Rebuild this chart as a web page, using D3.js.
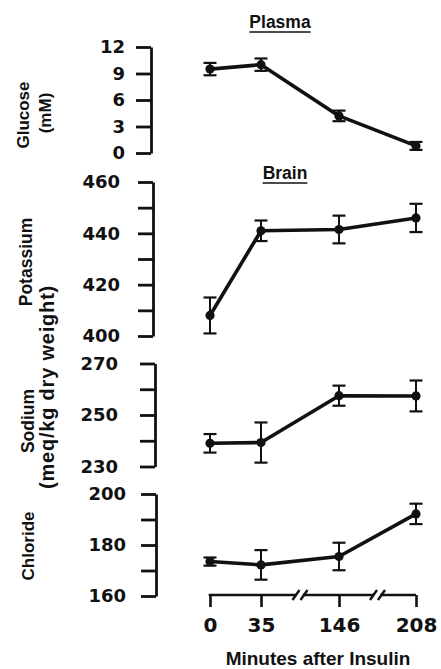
<!DOCTYPE html>
<html>
<head>
<meta charset="utf-8">
<script src="https://cdn.jsdelivr.net/npm/d3@7"></script>
<style>
  body { margin: 0; background: #fff; }
  svg { display: block; }
  .num { font-family: "DejaVu Sans", sans-serif; font-weight: bold; fill: #111; }
  .word { font-family: "Liberation Sans", Arial, sans-serif; font-weight: bold; fill: #111; }
</style>
</head>
<body>
<svg id="chart" width="441" height="669"></svg>
<script>
// minutes after insulin (broken axis, so categories)
var minutes = ["0", "35", "146", "208"];

// plasma glucose (mM), mean and error
var glucoseMean = [9.5, 10.0, 4.2, 0.8];
var glucoseErr = [0.7, 0.7, 0.6, 0.45];

// brain potassium (meq/kg dry weight)
var potassiumMean = [408, 441, 441.5, 446];
var potassiumErr = [7, 4, 5.4, 5.5];

// brain sodium
var sodiumMean = [239, 239.3, 257.5, 257.4];
var sodiumErr = [3.6, 7.8, 3.9, 6];

// brain chloride
var chlorideMean = [173.5, 172.2, 175.5, 192.2];
var chlorideErr = [1.6, 5.8, 5.4, 4];

var glucoseTicks = [0, 3, 6, 9, 12];
var potassiumTicks = [400, 410, 420, 430, 440, 450, 460];
var sodiumTicks = [230, 240, 250, 260, 270];
var chlorideTicks = [160, 170, 180, 190, 200];

var svg = d3.select("#chart");

var x = d3.scaleOrdinal()
  .domain(minutes)
  .range([210, 261, 339, 416]);

// one entry per panel, layout only
var panels = [
  { mean: glucoseMean, err: glucoseErr, ticks: glucoseTicks, labelEvery: 3, dom: [0, 12], axisX: 151, range: [153, 47], pad: 11 },
  { mean: potassiumMean, err: potassiumErr, ticks: potassiumTicks, labelEvery: 20, dom: [400, 460], axisX: 153, range: [336, 182], pad: 18 },
  { mean: sodiumMean, err: sodiumErr, ticks: sodiumTicks, labelEvery: 20, dom: [230, 270], axisX: 155, range: [466.5, 363.5], pad: 22 },
  { mean: chlorideMean, err: chlorideErr, ticks: chlorideTicks, labelEvery: 20, dom: [160, 200], axisX: 156, range: [596, 494], pad: 15 }
];

panels.forEach(function(p) {
  var y = d3.scaleLinear().domain(p.dom).range(p.range);

  var yAxis = d3.axisLeft(y)
    .tickValues(p.ticks)
    .tickSize(15)
    .tickSizeOuter(0)
    .tickPadding(p.pad)
    .tickFormat(function(d) { return (d - p.dom[0]) % p.labelEvery == 0 ? d : ""; });

  var g = svg.append("g")
    .attr("transform", "translate(" + p.axisX + ",0)")
    .call(yAxis);
  g.select(".domain").attr("stroke", "#111").attr("stroke-width", 2.8);
  g.selectAll(".tick line").attr("stroke", "#111").attr("stroke-width", 2.8);
  g.selectAll(".tick text")
    .attr("class", "num")
    .style("font-size", "18px")
    .attr("font-family", null);

  var pts = minutes.map(function(m, i) { return { m: m, v: p.mean[i], e: p.err[i] }; });

  // error bars
  var eb = svg.append("g").selectAll("g")
    .data(pts)
    .enter().append("g");
  eb.append("line")
    .attr("x1", d => x(d.m)).attr("x2", d => x(d.m))
    .attr("y1", d => y(d.v - d.e)).attr("y2", d => y(d.v + d.e))
    .attr("stroke", "#111").attr("stroke-width", 2);
  [-1, 1].forEach(function(s) {
    eb.append("line")
      .attr("x1", d => x(d.m) - 6.5).attr("x2", d => x(d.m) + 6.5)
      .attr("y1", d => y(d.v + s * d.e)).attr("y2", d => y(d.v + s * d.e))
      .attr("stroke", "#111").attr("stroke-width", 2.2);
  });

  var line = d3.line()
    .x(d => x(d.m))
    .y(d => y(d.v));

  svg.append("path")
    .datum(pts)
    .attr("d", line)
    .attr("fill", "none")
    .attr("stroke", "#111")
    .attr("stroke-width", 3.6)
    .attr("stroke-linejoin", "round");

  svg.append("g").selectAll("circle")
    .data(pts)
    .enter().append("circle")
      .attr("cx", d => x(d.m))
      .attr("cy", d => y(d.v))
      .attr("r", 4.6)
      .attr("fill", "#111");
});

// x axis with breaks
var axisY = 595;
var xAxis = d3.axisBottom(x)
  .tickSize(12)
  .tickPadding(11);
var gx = svg.append("g")
  .attr("transform", "translate(0," + axisY + ")")
  .call(xAxis);
gx.select(".domain").remove();
gx.selectAll(".tick line").attr("stroke", "#111").attr("stroke-width", 2.6);
gx.selectAll(".tick text")
  .attr("class", "num")
  .attr("font-family", null)
  .style("font-size", "20px");

var xs = minutes.map(m => x(m));
var b1 = (xs[1] + xs[2]) / 2, b2 = (xs[2] + xs[3]) / 2;
var segs = [[xs[0], b1 - 4], [b1 + 4, b2 - 4], [b2 + 4, xs[3]]];
segs.forEach(function(s) {
  gx.append("line")
    .attr("x1", s[0] - 1.3).attr("x2", s[1])
    .attr("y1", 0).attr("y2", 0)
    .attr("stroke", "#111").attr("stroke-width", 2.6);
});
[b1, b2].forEach(function(b) {
  [-4, 4].forEach(function(o) {
    gx.append("line")
      .attr("x1", b + o - 3.5).attr("x2", b + o + 3.5)
      .attr("y1", 5).attr("y2", -5)
      .attr("stroke", "#111").attr("stroke-width", 2.4);
  });
});

svg.append("text")
  .attr("class", "word")
  .attr("x", 318).attr("y", 665)
  .attr("text-anchor", "middle")
  .style("font-size", "19px")
  .text("Minutes after Insulin");

// titles, underlined
function title(txt, cx, base) {
  var t = svg.append("text")
    .attr("class", "word")
    .attr("x", cx).attr("y", base)
    .attr("text-anchor", "middle")
    .style("font-size", "17.5px")
    .text(txt);
  var w = t.node().getComputedTextLength();
  svg.append("line")
    .attr("x1", cx - w / 2).attr("x2", cx + w / 2)
    .attr("y1", base + 4).attr("y2", base + 4)
    .attr("stroke", "#111").attr("stroke-width", 1.6);
}
title("Plasma", 280, 28);
title("Brain", 285, 179);

// rotated y labels
var yLabels = [
  { t: "Glucose", x: 23, y: 115, size: 17 },
  { t: "(mM)", x: 45, y: 113, size: 17 },
  { t: "Potassium", x: 26, y: 262, size: 17.5 },
  { t: "(meq/kg dry weight)", x: 47, y: 387, size: 20 },
  { t: "Sodium", x: 28, y: 421, size: 17.5 },
  { t: "Chloride", x: 28, y: 546, size: 17 }
];
svg.append("g").selectAll("text")
  .data(yLabels)
  .enter().append("text")
    .attr("class", "word")
    .attr("transform", d => "translate(" + d.x + "," + d.y + ") rotate(-90)")
    .attr("text-anchor", "middle")
    .attr("dominant-baseline", "central")
    .style("font-size", d => d.size + "px")
    .style("letter-spacing", d => d.size >= 20 ? "0.8px" : null)
    .text(d => d.t);
</script>
</body>
</html>
